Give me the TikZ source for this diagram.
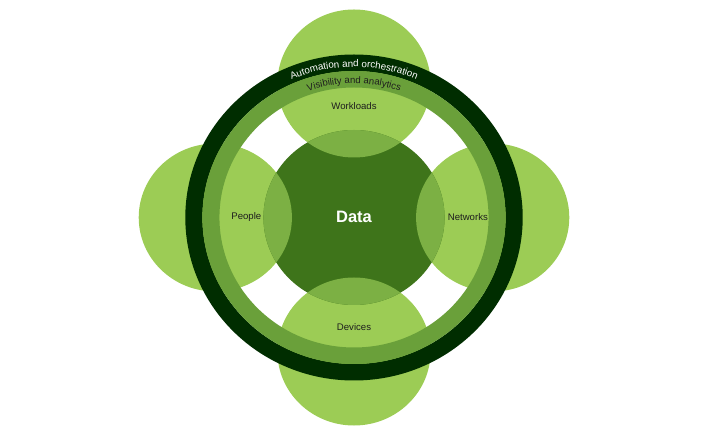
\documentclass[tikz,border=0pt]{standalone}
\usepackage{fontspec}
\setmainfont{Liberation Sans}
\usepackage{tikz}
\usetikzlibrary{decorations.text}
\definecolor{mylight}{RGB}{156,204,85}
\definecolor{mycore}{RGB}{62,116,26}
\definecolor{mylens}{RGB}{124,176,68}
\definecolor{myring}{RGB}{106,160,58}
\definecolor{myouter}{RGB}{0,45,0}
\definecolor{mytext}{RGB}{30,30,30}
\tikzset{
  petal/.style={fill=mylight},
  core/.style={fill=mycore},
  lens/.style={fill=mylens},
  petaltext/.style={font=\fontsize{9.6}{11}\selectfont, text=mytext},
  ringtext/.style={decorate, decoration={text along path, text align=center}}
}

\begin{document}
\begin{tikzpicture}
    \useasboundingbox (0,0) rectangle (706pt,436pt);
  \begin{scope}[shift={(354pt,218.5pt)}, x=1.035pt, y=1pt]
    % Outer circles
    \fill[petal] (0,134) circle[radius=74];
    \fill[petal] (0,-134) circle[radius=74];
    \fill[petal] (-134,0) circle[radius=74];
    \fill[petal] (134,0) circle[radius=74];

    % Data circle
    \fill[core] (0,0) circle[radius=87.5];

    % Overlaps
    \begin{scope}
      \clip (0,0) circle[radius=87.5];
      \fill[lens] (0,134) circle[radius=74];
      \fill[lens] (0,-134) circle[radius=74];
      \fill[lens] (-134,0) circle[radius=74];
      \fill[lens] (134,0) circle[radius=74];
    \end{scope}

    % Rings
    \fill[myouter, even odd rule] (0,0) circle[radius=163] (0,0) circle[radius=146.5];
    \fill[myring, even odd rule] (0,0) circle[radius=146.5] (0,0) circle[radius=130];

    % Ring labels
    \path[ringtext, decoration={text={|\color{white}\fontsize{9.8}{11}\selectfont|Automation and orchestration}}]
      (140:150.5) arc[start angle=140, end angle=40, radius=150.5];
    \path[ringtext, decoration={text={|\color{mytext}\fontsize{9.6}{11}\selectfont|Visibility and analytics}}]
      (140:134) arc[start angle=140, end angle=40, radius=134];

    % Labels
    \node[font=\bfseries\fontsize{16.5}{18}\selectfont, text=white] (data) at (0,1) {Data};
    \node[petaltext] (workloads) at (0,111.5) {Workloads};
    \node[petaltext] (devices) at (0,-109.5) {Devices};
    \node[petaltext] (people) at (-104,0) {People};
    \node[petaltext] (networks) at (110,0) {Networks};
  \end{scope}
\end{tikzpicture}
\end{document}
